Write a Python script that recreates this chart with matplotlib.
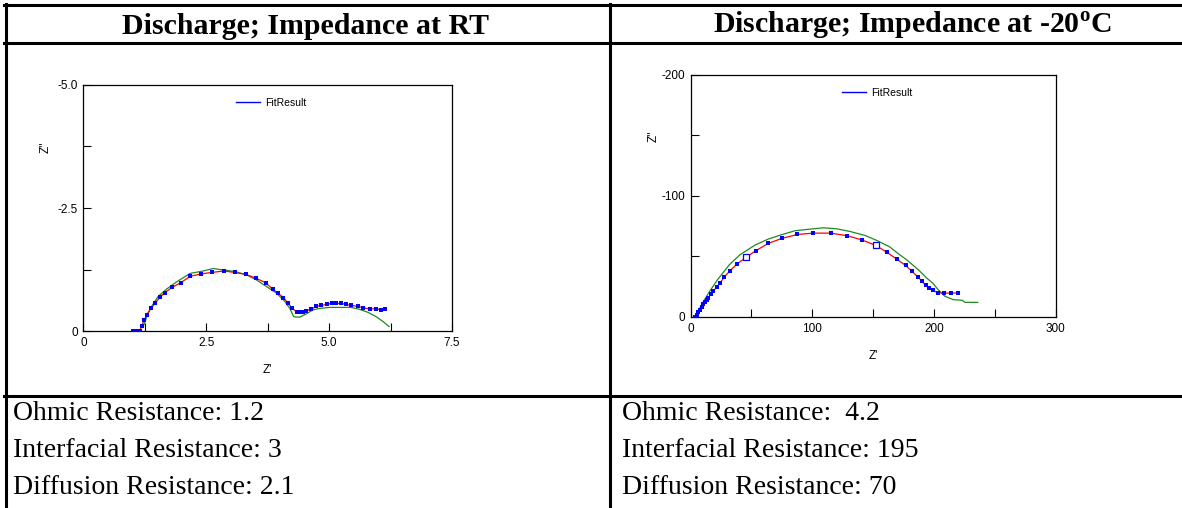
import matplotlib
matplotlib.use("Agg")
import matplotlib.pyplot as plt
from matplotlib.lines import Line2D

plt.rcParams["font.family"] = ["Liberation Sans", "DejaVu Sans"]
plt.rcParams["mathtext.fontset"] = "custom"
plt.rcParams["mathtext.rm"] = "Liberation Serif"
plt.rcParams["mathtext.bf"] = "Liberation Serif:bold"

# ---------- data ----------------------------------------------------------
# room temperature: measured points + fit
rt_zre = [1.02, 1.08, 1.15, 1.19, 1.24, 1.29, 1.37, 1.46, 1.56, 1.66, 1.81, 1.98,
          2.17, 2.39, 2.61, 2.86, 3.08, 3.31, 3.52, 3.71, 3.85, 3.96, 4.07, 4.17,
          4.25, 4.34, 4.40, 4.47, 4.54, 4.64, 4.74, 4.84, 4.95, 5.05, 5.15, 5.25,
          5.35, 5.45, 5.59, 5.69, 5.83, 5.96, 6.06, 6.13]
rt_zim = [0.0, 0.0, 0.0, -0.11, -0.22, -0.33, -0.46, -0.56, -0.69, -0.78, -0.89, -0.98,
          -1.11, -1.16, -1.19, -1.22, -1.19, -1.15, -1.07, -0.98, -0.85, -0.77, -0.68, -0.56,
          -0.46, -0.39, -0.38, -0.39, -0.41, -0.45, -0.50, -0.52, -0.54, -0.56, -0.56, -0.56,
          -0.54, -0.52, -0.50, -0.47, -0.45, -0.45, -0.43, -0.44]
# room temperature: second (green) curve
rt2_zre = [1.22, 1.29, 1.39, 1.52, 1.69, 1.90, 2.17, 2.44, 2.64, 2.85, 3.08, 3.32,
           3.52, 3.73, 3.93, 4.10, 4.20, 4.28, 4.40, 4.54, 4.67, 4.81, 5.01, 5.22,
           5.45, 5.62, 5.79, 5.96, 6.10, 6.22]
rt2_zim = [-0.09, -0.29, -0.50, -0.70, -0.85, -1.00, -1.17, -1.22, -1.27, -1.24, -1.21, -1.14,
           -1.04, -0.90, -0.77, -0.60, -0.46, -0.29, -0.28, -0.35, -0.43, -0.46, -0.48, -0.48,
           -0.48, -0.44, -0.38, -0.29, -0.19, -0.09]

# -20 C: measured points + fit
lt_zre = [3.6, 4.9, 6.3, 7.7, 9.0, 10.4, 11.8, 13.2, 14.5, 16.4, 18.6, 21.4, 24.1,
          27.7, 32.3, 38.4, 45.5, 53.4, 63.8, 74.8, 87.7, 100.8, 115.3, 128.8, 140.5,
          152.3, 161.1, 169.3, 176.7, 181.6, 186.6, 190.1, 193.2, 196.2, 198.9, 203.0,
          208.5, 214.0, 220.0]
lt_zim = [0.0, -1.9, -3.9, -6.1, -8.3, -10.7, -12.4, -13.8, -15.4, -18.7, -21.5, -24.5, -28.1,
          -33.0, -38.2, -44.0, -49.2, -54.7, -60.8, -64.9, -68.2, -69.3, -69.3, -67.1, -63.8,
          -59.1, -53.6, -47.9, -42.6, -38.0, -33.3, -29.7, -26.1, -23.7, -22.0, -20.1,
          -19.8, -19.8, -19.8]
lt_open_zre = [45.5, 152.3]
lt_open_zim = [-49.2, -59.1]
# -20 C: second (green) curve
lt2_zre = [3.6, 9.0, 15.9, 22.7, 31.8, 40.5, 52.9, 63.8, 74.8, 85.8, 98.1, 109.0,
           120.0, 130.9, 143.3, 152.9, 163.8, 170.7, 177.5, 187.1, 194.0, 198.9, 203.0,
           209.0, 215.9, 223.3, 225.5, 235.9]
lt2_zim = [0.0, -10.2, -21.7, -31.6, -43.2, -51.4, -59.4, -64.4, -68.0, -71.3, -72.6, -73.7,
           -72.9, -70.7, -67.4, -63.3, -57.8, -52.3, -47.3, -39.1, -32.2, -28.1, -23.1,
           -17.1, -14.3, -13.8, -12.1, -12.1]

titles = ["Discharge; Impedance at RT", r"Discharge; Impedance at -20$^{\mathbf{o}}$C"]
notes = [["Ohmic Resistance: 1.2", "Interfacial Resistance: 3", "Diffusion Resistance: 2.1"],
         ["Ohmic Resistance:  4.2", "Interfacial Resistance: 195", "Diffusion Resistance: 70"]]

W, H = 1182, 508
fig = plt.figure(figsize=(W / 100, H / 100), dpi=100)


def px(x, y):
    return x / W, 1 - y / H


# ---------- table grid ----------------------------------------------------
lw_tab = 2.2
for (x0, y0), (x1, y1) in [((4, 4.5), (1182, 4.5)), ((4, 43), (1182, 43)),
                           ((4, 396), (1182, 396)), ((5.5, 3.5), (5.5, 508)),
                           ((610, 3.5), (610, 508))]:
    a, b = px(x0, y0), px(x1, y1)
    fig.add_artist(Line2D([a[0], b[0]], [a[1], b[1]], color="black", lw=lw_tab))

for cx, t in zip([305, 912], titles):
    x, y = px(cx, 34)
    fig.text(x, y, t, ha="center", va="baseline", family="Liberation Serif",
             weight="bold", fontsize=21.5)

for lx, lines in zip([13, 622], notes):
    for i, s in enumerate(lines):
        x, y = px(lx, 420 + 37 * i)
        fig.text(x, y, s, ha="left", va="baseline", family="Liberation Serif",
                 fontsize=20)


# ---------- Nyquist plots -------------------------------------------------
def nyquist(rect, zre, zim, zre2, zim2, xmax, ymax, xt, xtl, yt, ytl, minx, miny):
    ax = fig.add_axes(rect)
    ax.plot(zre2, zim2, color="#1f8a1f", lw=0.9, zorder=2)
    ax.plot(zre, zim, color="red", lw=0.9, zorder=3)
    ax.plot(zre, zim, ls="none", marker="s", ms=2.2, color="blue", mew=0, zorder=4)
    ax.plot([], [], color="blue", lw=1.0, label="FitResult")
    ax.set_xlim(0, xmax)
    ax.set_ylim(0, -ymax)
    ax.set_xticks(xt)
    ax.set_xticklabels(xtl)
    ax.set_yticks(yt)
    ax.set_yticklabels(ytl)
    ax.set_xticks(minx, minor=True)
    ax.set_yticks(miny, minor=True)
    ax.tick_params(which="both", direction="in", length=6, width=0.8, labelsize=8.5,
                   top=False, right=False, pad=4)
    for sp in ax.spines.values():
        sp.set_linewidth(0.9)
    ax.set_xlabel("Z'", fontsize=8.5)
    ax.set_ylabel("Z''", fontsize=8.5)
    ax.xaxis.set_label_coords(0.5, -0.135)
    ax.yaxis.set_label_coords(-0.085, 0.748)
    ax.legend(loc="center left", bbox_to_anchor=(0.415, 0.927), frameon=False,
              fontsize=7.5, handlelength=2.3, handletextpad=0.5, borderpad=0,
              borderaxespad=0)
    return ax


nyquist([0.0705, 0.3484, 0.3119, 0.4843], rt_zre, rt_zim, rt2_zre, rt2_zim,
        7.5, 5.0, [0, 2.5, 5.0, 7.5], ["0", "2.5", "5.0", "7.5"],
        [0, -2.5, -5.0], ["0", "-2.5", "-5.0"], [1.25, 3.75, 6.25], [-1.25, -3.75])

ax2 = nyquist([0.5843, 0.3760, 0.3088, 0.4764], lt_zre, lt_zim, lt2_zre, lt2_zim,
              300, 200, [0, 100, 200, 300], ["0", "100", "200", "300"],
              [0, -100, -200], ["0", "-100", "-200"], [50, 150, 250], [-50, -150])
ax2.plot(lt_open_zre, lt_open_zim, ls="none", marker="s", ms=4, mfc="white",
         mec="blue", mew=0.9, zorder=5)

fig.savefig("out.png", dpi=100)
